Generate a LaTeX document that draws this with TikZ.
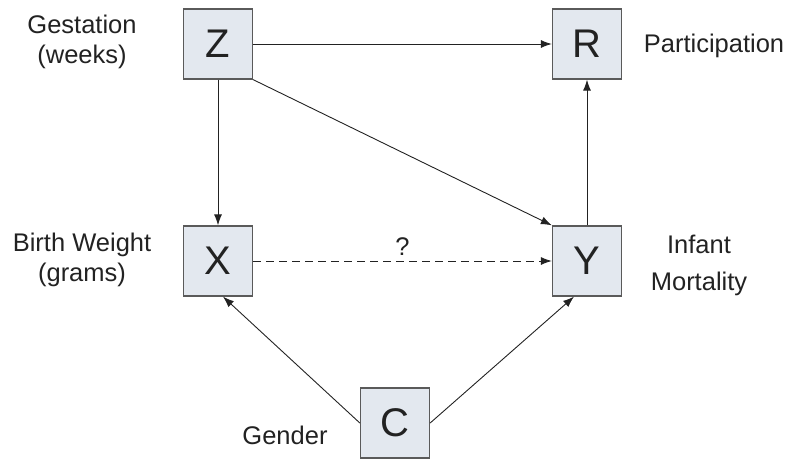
\documentclass[tikz,border=0pt]{standalone}
\usepackage{fontspec}
\setmainfont{Liberation Sans}
\usetikzlibrary{arrows.meta}
\definecolor{boxfill}{HTML}{E3E8EF}
\definecolor{boxline}{HTML}{5A5A5A}
\definecolor{ink}{HTML}{222222}
\begin{document}
\begin{tikzpicture}[x=1pt,y=-1pt,
  var/.style={draw=boxline,line width=1.3pt,fill=boxfill,minimum width=69pt,minimum height=70pt,inner sep=0pt,font=\fontsize{40}{44}\selectfont,text=ink},
  lbl/.style={font=\fontsize{25.5}{30}\selectfont,text=ink,align=center},
  edge/.style={draw=ink,line width=0.9pt,-{Latex[length=11pt,width=8pt]}}]
\useasboundingbox (0,0) rectangle (791,460);
\node[var] (Z) at (218,44) {Z};
\node[var] (R) at (587,44) {R};
\node[var] (X) at (218,261) {X};
\node[var] (Y) at (587,261) {Y};
\node[var] (C) at (395,423) {C};
\node[lbl] (lz) at (82,42) {Gestation\\(weeks)};
\node[lbl] (lx) at (82,260) {Birth Weight\\(grams)};
\node[lbl,font=\fontsize{25.5}{37}\selectfont] (ly) at (699,265) {Infant\\Mortality};
\node[lbl] (lr) at (714,46) {Participation};
\node[lbl] (lc) at (285,435) {Gender};
\draw[edge] (Z) -- (R);
\draw[edge] (Z) -- (X);
\draw[edge] (Z.south east) -- (Y.north west);
\draw[edge] (Y) -- (R);
\draw[edge,dashed,dash pattern=on 8pt off 5pt] (X) -- node[lbl,above=2pt] (q) {?} (Y);
\draw[edge] (C.west) -- ([xshift=5pt]X.south);
\draw[edge] (C.east) -- ([xshift=-13pt]Y.south);
\end{tikzpicture}
\end{document}
